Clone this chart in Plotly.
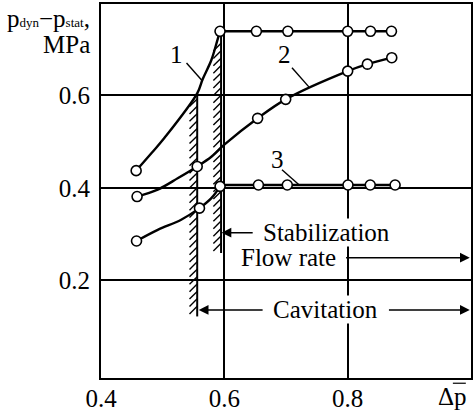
import plotly.graph_objects as go

# ---------------- data ----------------
x_ticks = [0.4, 0.6, 0.8]
x_tick_labels = ["0.4", "0.6", "0.8"]
y_ticks = [0.2, 0.4, 0.6]
y_tick_labels = ["0.2", "0.4", "0.6"]

# curve 1
c1_mark_x = [0.457, 0.593, 0.652, 0.703, 0.800, 0.837, 0.871]
c1_mark_y = [0.437, 0.738, 0.738, 0.738, 0.738, 0.738, 0.738]
c1_rise_x = [0.457, 0.482, 0.503, 0.556, 0.565, 0.579, 0.589, 0.593]
c1_rise_y = [0.437, 0.475, 0.508, 0.604, 0.635, 0.676, 0.720, 0.738]
c1_flat_x = [0.593, 0.871]
c1_flat_y = [0.738, 0.738]

# curve 2
c2_mark_x = [0.4585, 0.556, 0.654, 0.6995, 0.800, 0.832, 0.8715]
c2_mark_y = [0.381, 0.446, 0.550, 0.591, 0.652, 0.667, 0.681]
c2_line_x = [0.4585, 0.492, 0.525, 0.556, 0.579, 0.600, 0.654, 0.6995, 0.800, 0.832, 0.8715]
c2_line_y = [0.381, 0.396, 0.421, 0.446, 0.467, 0.493, 0.550, 0.591, 0.652, 0.667, 0.681]

# curve 3
c3_mark_x = [0.4576, 0.5597, 0.5931, 0.6553, 0.7021, 0.8005, 0.8366, 0.8769]
c3_mark_y = [0.285, 0.356, 0.403, 0.406, 0.406, 0.406, 0.406, 0.406]
c3_rise_x = [0.4576, 0.492, 0.530, 0.5597, 0.579, 0.5931]
c3_rise_y = [0.285, 0.309, 0.331, 0.356, 0.3775, 0.403]
c3_flat_x = [0.5931, 0.8769]
c3_flat_y = [0.406, 0.406]

# hatched boundaries (x, top, bottom)
hatch_x = [0.556, 0.5947]
hatch_top = [0.604, 0.738]
hatch_bottom = [0.122, 0.259]
hatch_tick_start = [0.592, 0.712]

curve_labels = ["1", "2", "3"]
FONT = "Liberation Serif"

fig = go.Figure()

# hatch ticks
tick_dx, tick_dy, tick_step = 0.0125, 0.0165, 0.0160
for hx, ht, hb, hs in zip(hatch_x, hatch_top, hatch_bottom, hatch_tick_start):
    fig.add_trace(go.Scatter(x=[hx, hx], y=[ht, hb], mode="lines",
                             line=dict(color="black", width=2), hoverinfo="skip"))
    tx, ty = [], []
    y = hs
    while y - tick_dy > hb - 0.002:
        tx += [hx, hx - tick_dx, None]
        ty += [y, y - tick_dy, None]
        y -= tick_step
    fig.add_trace(go.Scatter(x=tx, y=ty, mode="lines",
                             line=dict(color="black", width=1.4), hoverinfo="skip"))

line_style = dict(color="black", width=2.4)
fig.add_trace(go.Scatter(x=c1_rise_x, y=c1_rise_y, mode="lines",
                         line=dict(**line_style, shape="spline"), hoverinfo="skip"))
fig.add_trace(go.Scatter(x=c1_flat_x, y=c1_flat_y, mode="lines", line=line_style))
fig.add_trace(go.Scatter(x=c2_line_x, y=c2_line_y, mode="lines",
                         line=dict(**line_style, shape="spline"), hoverinfo="skip"))
fig.add_trace(go.Scatter(x=c3_rise_x, y=c3_rise_y, mode="lines",
                         line=dict(**line_style, shape="spline"), hoverinfo="skip"))
fig.add_trace(go.Scatter(x=c3_flat_x, y=c3_flat_y, mode="lines", line=line_style))

marker_style = dict(symbol="circle", size=10, color="white",
                    line=dict(color="black", width=1.6))
for mx, my in [(c1_mark_x, c1_mark_y), (c2_mark_x, c2_mark_y), (c3_mark_x, c3_mark_y)]:
    fig.add_trace(go.Scatter(x=mx, y=my, mode="markers", marker=marker_style))

# curve number labels with leader lines
label_pos = [(0.5226, 0.687, 0.5387, 0.6695, 0.5645, 0.6306),
             (0.6968, 0.687, 0.7097, 0.6593, 0.7371, 0.6180),
             (0.6855, 0.4603, 0.6935, 0.4387, 0.7210, 0.4063)]
for lab, (lx, ly, x0, y0, x1, y1) in zip(curve_labels, label_pos):
    fig.add_annotation(x=lx, y=ly, text=lab, showarrow=False,
                       font=dict(family=FONT, size=25, color="black"))
    fig.add_shape(type="line", x0=x0, y0=y0, x1=x1, y1=y1,
                  line=dict(color="black", width=1.4))

arrow_common = dict(showarrow=True, arrowhead=2, arrowsize=1.3, arrowwidth=1.5,
                    arrowcolor="black", axref="x", ayref="y", text="")
# Stabilization
fig.add_annotation(x=0.5955, y=0.303, ax=0.6484, ay=0.303, **arrow_common)
fig.add_annotation(x=0.766, y=0.303, text="Stabilization", showarrow=False,
                   bgcolor="white", borderpad=0,
                   font=dict(family=FONT, size=25, color="black"))
# Flow rate
fig.add_annotation(x=0.704, y=0.249, text="Flow rate", showarrow=False,
                   font=dict(family=FONT, size=25, color="black"))
fig.add_annotation(x=0.998, y=0.249, ax=0.795, ay=0.249, **arrow_common)
# Cavitation
fig.add_annotation(x=0.5585, y=0.136, ax=0.6645, ay=0.136, **arrow_common)
fig.add_annotation(x=0.998, y=0.136, ax=0.8645, ay=0.136, **arrow_common)
fig.add_annotation(x=0.7645, y=0.136, text="Cavitation", showarrow=False,
                   bgcolor="white", borderpad=0,
                   font=dict(family=FONT, size=25, color="black"))

# axis titles
fig.add_annotation(xref="paper", yref="paper", x=-0.024, y=1.003, yanchor="top",
                   xanchor="right", showarrow=False,
                   text="p<span style='font-size:13px'>dyn</span>−p<span style='font-size:13px'>stat</span>,",
                   font=dict(family=FONT, size=25, color="black"))
fig.add_annotation(xref="paper", yref="paper", x=-0.024, y=0.932, yanchor="top",
                   xanchor="right", showarrow=False, text="MPa",
                   font=dict(family=FONT, size=25, color="black"))
fig.add_annotation(xref="paper", yref="paper", x=0.949, y=-0.05, yanchor="middle",
                   xanchor="center", showarrow=False, text="Δp",
                   font=dict(family=FONT, size=25, color="black"))
fig.add_shape(type="line", xref="paper", yref="paper", x0=0.951, x1=0.986,
              y0=-0.014, y1=-0.014, line=dict(color="black", width=1.2))

axis_common = dict(showline=True, mirror=True, linecolor="black", linewidth=2,
                   showgrid=True, gridcolor="black", gridwidth=2,
                   zeroline=False, ticks="",
                   tickfont=dict(family=FONT, size=25, color="black"))
fig.update_xaxes(range=[0.4, 1.0], tickvals=x_ticks, ticktext=x_tick_labels,
                 ticklabelstandoff=-3, **axis_common)
fig.update_yaxes(range=[-0.011, 0.797], tickvals=y_ticks, ticktext=y_tick_labels,
                 ticklabelstandoff=4, **axis_common)

fig.update_layout(width=473, height=413, margin=dict(l=101, r=0, t=4, b=35),
                  showlegend=False, plot_bgcolor="white", paper_bgcolor="white")

fig.write_html("out.html", config={"displayModeBar": False, "staticPlot": True},
               post_script="document.body.style.margin='0';document.body.style.overflow='hidden';")
